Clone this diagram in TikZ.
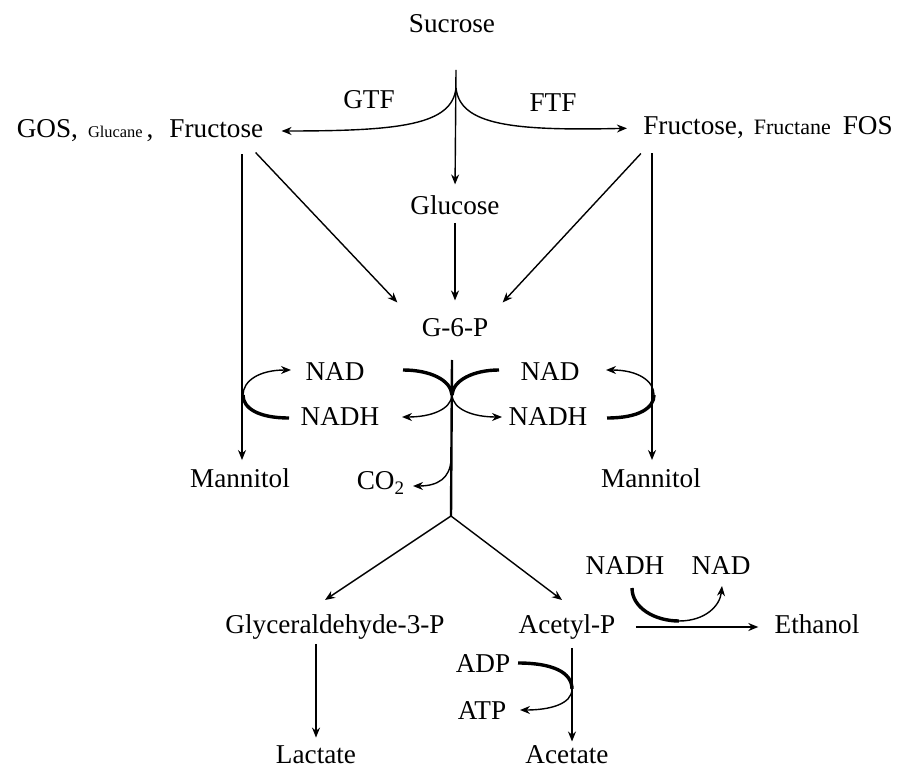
\documentclass[tikz,border=0pt]{standalone}
\usepackage{fontspec}
\setmainfont{Liberation Serif}
\usetikzlibrary{arrows.meta}

\begin{document}
\begin{tikzpicture}[x=0.5pt, y=-0.5pt,
    every node/.style={font=\fontsize{13.6}{16}\selectfont, inner sep=2pt},
    arrow/.style={-{Stealth[length=5pt, width=4pt]}, line width=0.7pt},
    heavy/.style={line width=1.7pt},
    stem/.style={line width=1.2pt}
]
\useasboundingbox (0,0) rectangle (898,769);

% Sugars
\node (sucrose) at (452,24) {Sucrose};
\node (gos) at (140,131) {GOS,\hspace{5pt}{\fontsize{8.2}{10}\selectfont Glucane}\hspace{2pt},\hspace{8pt}Fructose};
\node (fos) at (768,128) {Fructose,\hspace{5pt}{\fontsize{11}{13}\selectfont Fructane}\hspace{6pt}FOS};
\node (gtf) at (369,100) {GTF};
\node (ftf) at (553,103) {FTF};
\node (glucose) at (455,205) {Glucose};
\node (g6p) at (455,328) {G-6-P};

% Cofactors around G-6-P
\node (nadL) at (335,372) {NAD};
\node (nadhL) at (340,417) {NADH};
\node (nadR) at (550,372) {NAD};
\node (nadhR) at (548,417) {NADH};
\node (manL) at (240,478) {Mannitol};
\node (manR) at (651,478) {Mannitol};
\node (co2) at (381,483) {CO\textsubscript{2}};

% Products
\node (gap) at (335,627) {Glyceraldehyde-3-P};
\node (acp) at (567,627) {Acetyl-P};
\node (ethanol) at (817,624) {Ethanol};
\node (nadhE) at (625,566) {NADH};
\node (nadE) at (721,566) {NAD};
\node (adp) at (483,664) {ADP};
\node (atp) at (482,711) {ATP};
\node (lactate) at (316,755) {Lactate};
\node (acetate) at (567,755) {Acetate};

% Branch points
\coordinate (top) at (456,70);
\coordinate (fork) at (456,88);
\coordinate (stemtop) at (452,360);
\coordinate (hub) at (452,395);
\coordinate (co2start) at (451,460);
\coordinate (co2tip) at (413,486);
\coordinate (split) at (451,516);
\coordinate (gaptip) at (325,600);
\coordinate (acptip) at (562,600);
\coordinate (nadLend) at (403,370);
\coordinate (nadhLend) at (402,417);
\coordinate (nadRend) at (499,370);
\coordinate (nadhRend) at (502,417);
\coordinate (loopLa) at (289,418);
\coordinate (loopL) at (243,395);
\coordinate (loopLb) at (291,370);
\coordinate (loopRa) at (607,418);
\coordinate (loopR) at (654,395);
\coordinate (loopRb) at (606,370);
\coordinate (etA) at (632,588);
\coordinate (etLow) at (679,621);
\coordinate (etB) at (722,586);
\coordinate (adpA) at (518,663);
\coordinate (atpside) at (572,689);
\coordinate (atpB) at (520,710);

% Sucrose split
\draw[arrow, shorten >=3.3pt] (top) -- (glucose.north);
\draw[arrow, shorten >=7pt] (fork) .. controls (452,125) and (400,131) .. (gos.east);
\draw[arrow, shorten >=6pt] (fork) .. controls (460,125) and (512,131) .. (fos.west);

% Into G-6-P and Mannitol
\draw[arrow] ([xshift=-6pt,yshift=-3pt]gos.south east) -- ([xshift=-10pt,yshift=6pt]g6p.north west);
\draw[arrow] ([xshift=1pt,yshift=-5pt]fos.south west) -- ([xshift=5pt,yshift=6pt]g6p.north east);
\draw[arrow, shorten <=2pt] (glucose.south) -- ([yshift=7pt]g6p.north);
\draw[arrow, shorten <=4pt] ([xshift=1pt]gos.south -| manL.north) -- ([xshift=1pt,yshift=2pt]manL.north);
\draw[arrow, shorten <=5pt] ([xshift=0.5pt]fos.south -| manR.north) -- ([xshift=0.5pt,yshift=2pt]manR.north);

% Mannitol loops
\draw[heavy] (loopLa) .. controls (258,418) and (243,408) .. (loopL);
\draw[arrow] (loopL) .. controls (243,381) and (259,370) .. (loopLb);
\draw[heavy] (loopRa) .. controls (639,418) and (654,408) .. (loopR);
\draw[arrow] (loopR) .. controls (654,381) and (638,370) .. (loopRb);

% Main stem
\draw[stem] (stemtop) -- (split);
\draw[heavy] (nadLend) .. controls (430,370) and (451,380) .. (hub);
\draw[heavy] (nadRend) .. controls (474,370) and (453,380) .. (hub);
\draw[arrow] (hub) .. controls (451,410) and (430,417) .. (nadhLend);
\draw[arrow] (hub) .. controls (453,410) and (474,417) .. (nadhRend);
\draw[arrow] (co2start) .. controls (450,478) and (438,486) .. (co2tip);
\draw[arrow] (split) -- (gaptip);
\draw[arrow] (split) -- (acptip);

% Acetyl-P branch
\draw[arrow, shorten <=8pt, shorten >=6pt] (acp.east) -- (acp.east -| ethanol.west);
\draw[heavy] (etA) .. controls (632,608) and (655,621) .. (etLow);
\draw[arrow] (etLow) .. controls (705,621) and (720,606) .. (etB);
\draw[arrow, shorten <=2pt] ([xshift=2.5pt]acp.south) -- ([xshift=2.5pt]acetate.north);
\draw[heavy] (adpA) .. controls (552,663) and (572,672) .. (atpside);
\draw[arrow] (atpside) .. controls (572,704) and (550,710) .. (atpB);
\draw[arrow] (gap.south -| lactate.north) -- ([yshift=2pt]lactate.north);

\end{tikzpicture}
\end{document}
